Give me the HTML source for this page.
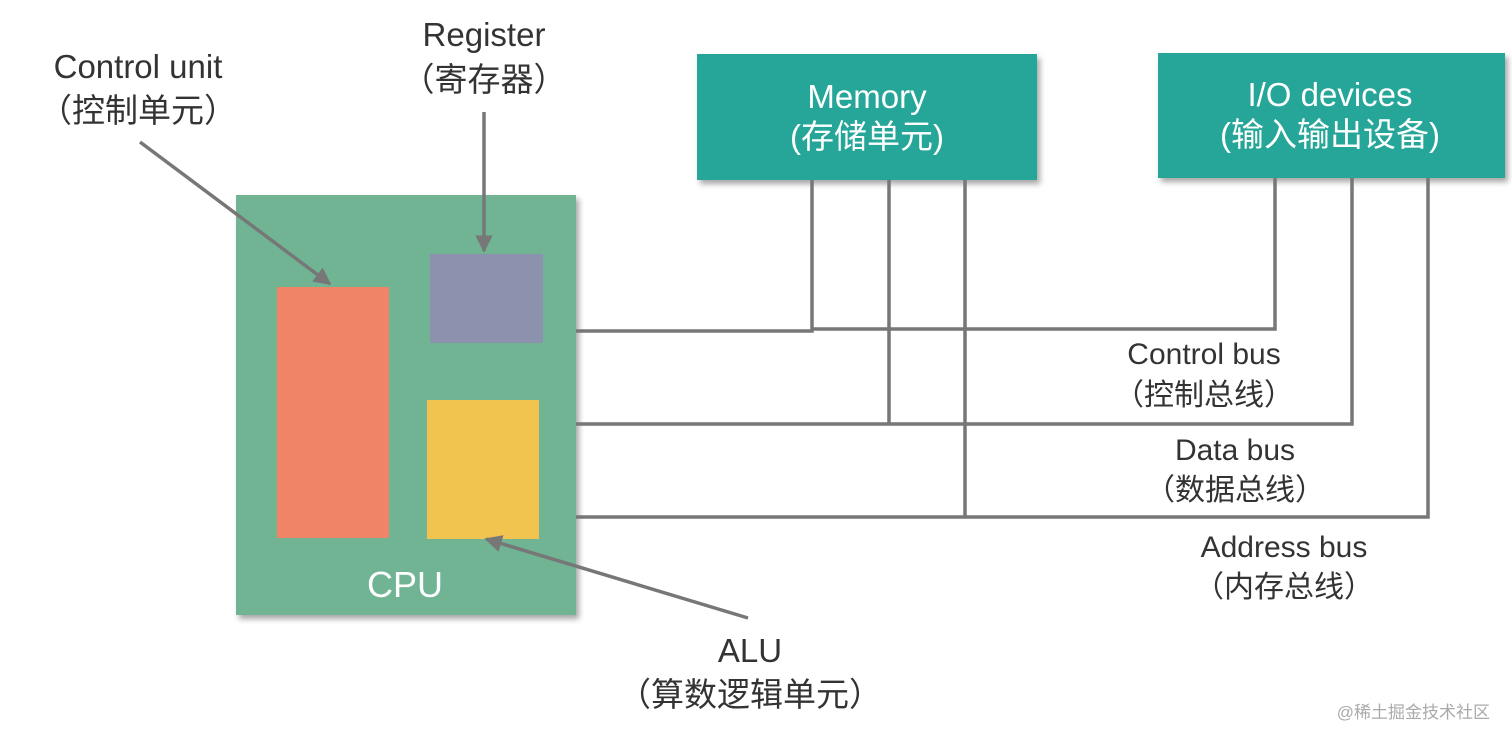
<!DOCTYPE html>
<html><head><meta charset="utf-8"><style>
html,body{margin:0;padding:0;background:#fff;}
svg{display:block;}
text{font-family:"Liberation Sans","Noto Sans CJK SC",sans-serif;}
</style></head><body>
<svg width="1512" height="742" viewBox="0 0 1512 742" xmlns="http://www.w3.org/2000/svg">
<defs>
<filter id="sh" x="-5%" y="-5%" width="115%" height="115%"><feDropShadow dx="3" dy="4" stdDeviation="3" flood-color="#000" flood-opacity="0.35"/></filter>
<marker id="ah" viewBox="0 0 10 10" refX="9" refY="5" markerWidth="5" markerHeight="5" orient="auto"><path d="M0,0 L10,5 L0,10 z" fill="#777"/></marker>
</defs>
<!-- boxes -->
<rect x="236" y="195" width="340" height="420" fill="#6fb494" filter="url(#sh)"/>
<rect x="697" y="54" width="340" height="126" fill="#26a699" filter="url(#sh)"/>
<rect x="1158" y="53" width="347" height="125" fill="#26a699" filter="url(#sh)"/>
<rect x="277" y="287" width="112" height="251" fill="#ef8466"/>
<rect x="430" y="254" width="113" height="89" fill="#8c91ae"/>
<rect x="427" y="400" width="112" height="139" fill="#f0c44f"/>
<!-- buses -->
<g stroke="#777" stroke-width="3.5" fill="none">
<path d="M576,331 H812 V180"/>
<path d="M812,329 H1275 V178"/>
<path d="M576,424 H1352 V178"/>
<path d="M889,180 V424"/>
<path d="M576,517 H1428 V178"/>
<path d="M965,180 V517"/>
</g>
<!-- arrows -->
<g stroke="#777" stroke-width="3.5" fill="none" marker-end="url(#ah)">
<line x1="140" y1="142" x2="330" y2="284"/>
<line x1="484" y1="112" x2="484" y2="251"/>
<line x1="748" y1="618" x2="486" y2="539"/>
</g>
<!-- text -->
<g fill="#fff" font-size="33" text-anchor="middle">
<text x="405" y="597" font-size="36">CPU</text>
<text x="867" y="108">Memory</text>
<text x="867" y="148">(存储单元)</text>
<text x="1330" y="106">I/O devices</text>
<text x="1330" y="146">(输入输出设备)</text>
</g>
<g fill="#333" font-size="33" text-anchor="middle">
<text x="138" y="78">Control unit</text>
<text x="138" y="122">（控制单元）</text>
<text x="484" y="46">Register</text>
<text x="484" y="91">（寄存器）</text>
<text x="750" y="662">ALU</text>
<text x="750" y="706">（算数逻辑单元）</text>
</g>
<g fill="#333" font-size="30" text-anchor="middle">
<text x="1204" y="364">Control bus</text>
<text x="1204" y="405">（控制总线）</text>
<text x="1235" y="460">Data bus</text>
<text x="1235" y="500">（数据总线）</text>
<text x="1284" y="557">Address bus</text>
<text x="1284" y="597">（内存总线）</text>
</g>
<text x="1490" y="718" fill="#aaa" font-size="17" text-anchor="end">@稀土掘金技术社区</text>
</svg>
</body></html>
